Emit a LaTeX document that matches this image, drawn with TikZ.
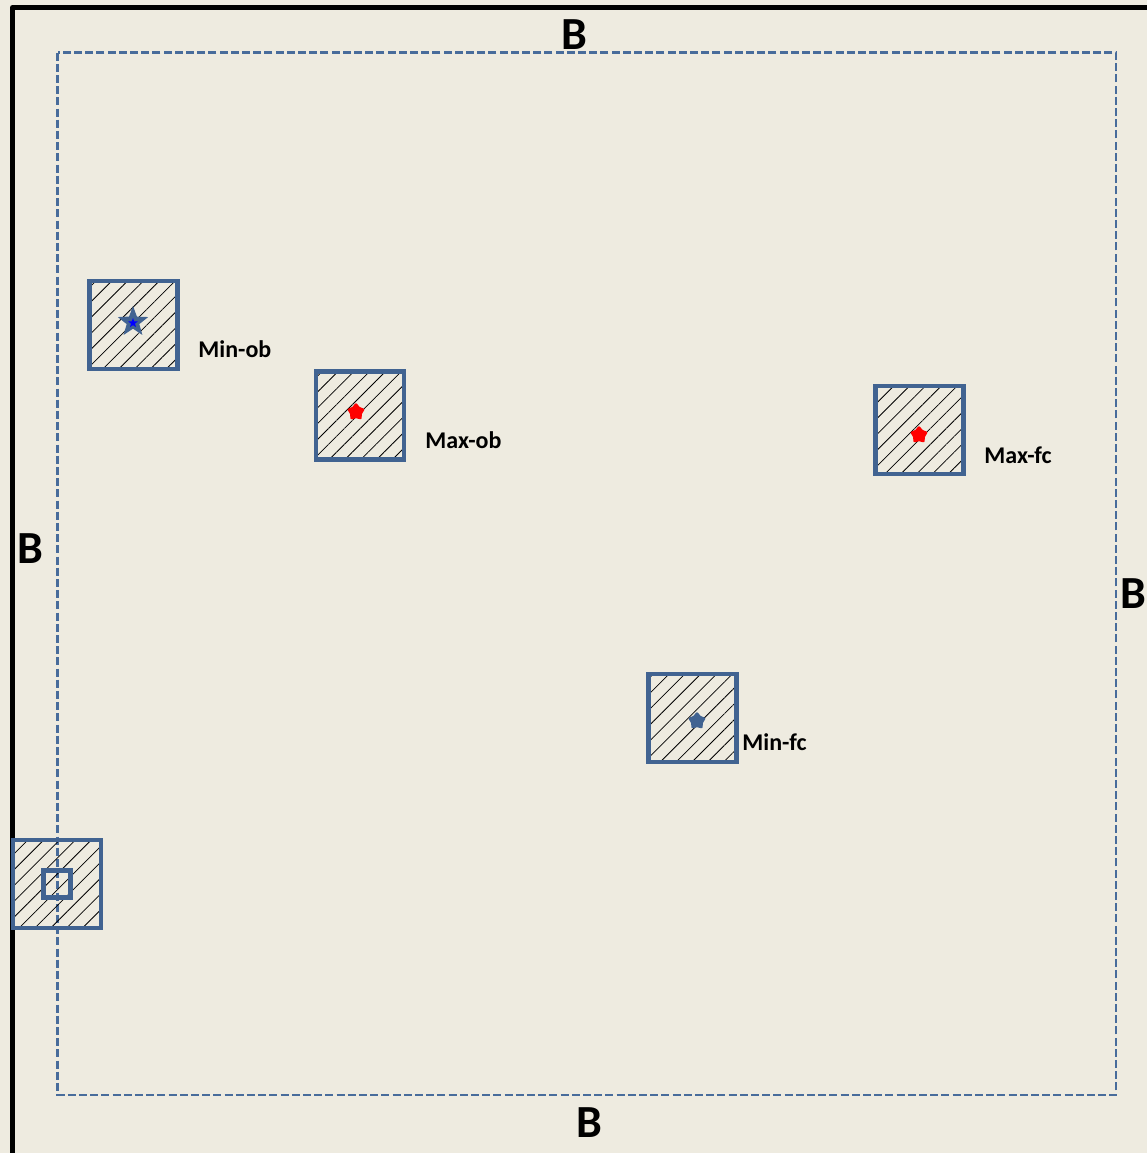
\documentclass[tikz,border=0pt]{standalone}
\usepackage{fontspec}
\setmainfont{Carlito}
\usetikzlibrary{patterns.meta,shapes.geometric}
\definecolor{bgc}{RGB}{238,235,224}
\definecolor{sqblue}{RGB}{65,99,145}
\definecolor{dashblue}{RGB}{72,108,155}
\tikzset{
  sqbox/.style={draw=sqblue, line width=2.4pt, minimum size=44pt, inner sep=0pt,
    pattern={Lines[angle=45,distance=5.6pt,line width=0.4pt]}, pattern color=black},
  smallsq/.style={draw=sqblue, line width=2.4pt, minimum size=13.5pt, inner sep=0pt},
  lbl/.style={font=\bfseries\fontsize{12pt}{14pt}\selectfont, anchor=west, inner sep=0pt},
  blbl/.style={font=\bfseries\fontsize{23pt}{26pt}\selectfont, inner sep=0pt},
  reddot/.style={star, star points=5, star point ratio=1.5, minimum size=7.5pt, inner sep=0pt,
    fill=red, draw=red, line width=1.2pt, line join=round},
  bluedot/.style={reddot, fill=sqblue, draw=sqblue}
}
\begin{document}
\begin{tikzpicture}[x=0.5pt,y=-0.5pt]
\useasboundingbox (0,0) rectangle (1147,1153);
\fill[bgc] (0,0) rectangle (1147,1153);
% outer black border
\draw[line width=2.5pt, line join=round] (1147,7.5) -- (12.5,7.5) -- (12.5,1153);
% dashed inner boundary
\draw[dashblue, line width=1.15pt, dash pattern=on 4pt off 1.6pt] (57.5,52.5) rectangle (1116,1095);
% boundary labels
\node[blbl] (btop) at (574,35) {B};
\node[blbl] (bleft) at (30,549) {B};
\node[blbl] (bright) at (1133,594) {B};
\node[blbl] (bbot) at (589,1123) {B};
% squares
\node[sqbox] (minob) at (133.5,325) {};
\node[sqbox] (maxob) at (360,415.5) {};
\node[sqbox] (maxfc) at (919.5,430) {};
\node[sqbox] (minfc) at (692.5,718) {};
\node[sqbox] (corner) at (57,884) {};
\node[smallsq] (cornerin) at (57,884) {};
% markers
\node[star, star points=5, star point ratio=2.4, minimum size=16pt, inner sep=0pt, fill=sqblue] (starmark) at (133,322) {};
\node[star, star points=5, star point ratio=2.4, minimum size=5pt, inner sep=0pt, fill=blue] (starin) at (133,323) {};
\node[reddot] (maxobdot) at (356,412) {};
\node[reddot] (maxfcdot) at (919,435) {};
\node[bluedot] (minfcdot) at (697,721) {};
% labels
\node[lbl] (tminob) at (198,349) {Min-ob};
\node[lbl] (tmaxob) at (425,440) {Max-ob};
\node[lbl] (tmaxfc) at (984,455) {Max-fc};
\node[lbl] (tminfc) at (742,742) {Min-fc};
\end{tikzpicture}
\end{document}
